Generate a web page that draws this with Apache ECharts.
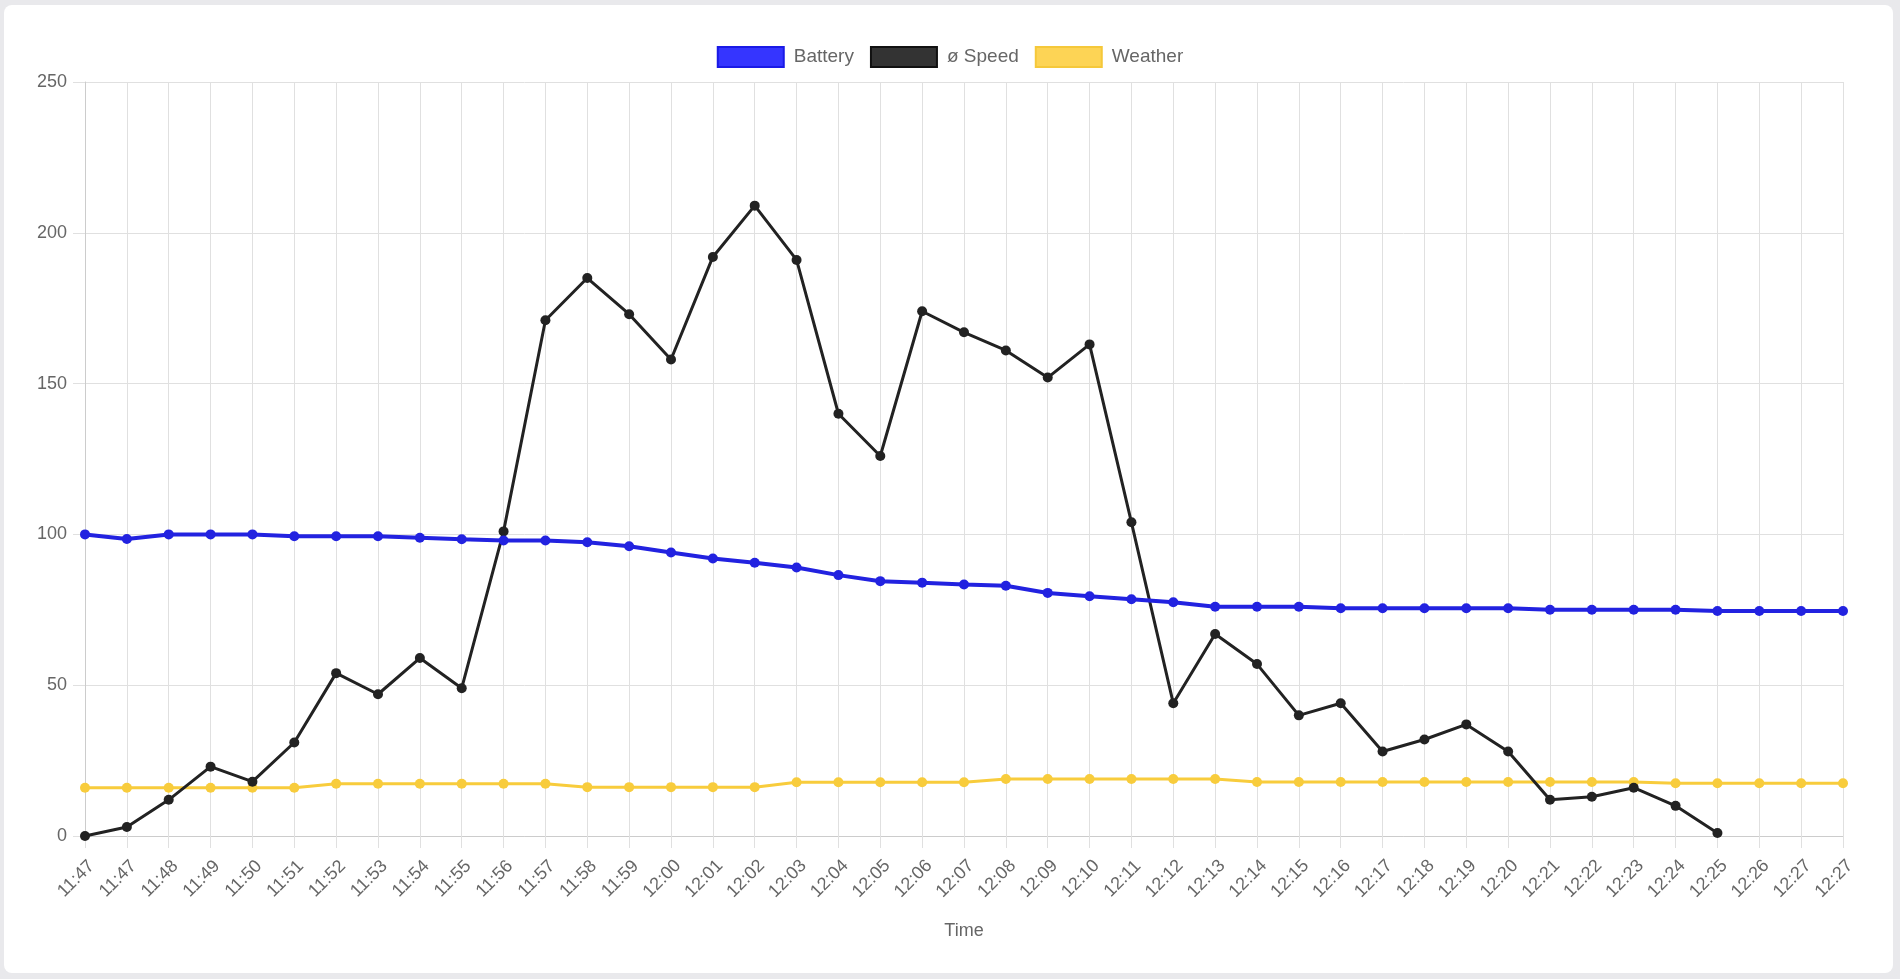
<!DOCTYPE html>
<html>
<head>
<meta charset="utf-8">
<title>Trip chart</title>
<script src="https://cdn.jsdelivr.net/npm/echarts@6/dist/echarts.min.js"></script>
<style>
  html, body { margin: 0; padding: 0; background: #e9e9ec; }
  #card {
    position: absolute; left: 4px; top: 5px; width: 1889px; height: 968px;
    background: #fff; border-radius: 8px;
  }
  #chart { position: absolute; left: 0; top: 0; width: 1900px; height: 979px; }
</style>
</head>
<body>
<div id="card"></div>
<div id="chart"></div>
<script>
const times = [
  "11:47", "11:47", "11:48", "11:49", "11:50", "11:51", "11:52", "11:53", "11:54", "11:55",
  "11:56", "11:57", "11:58", "11:59", "12:00", "12:01", "12:02", "12:03", "12:04", "12:05",
  "12:06", "12:07", "12:08", "12:09", "12:10", "12:11", "12:12", "12:13", "12:14", "12:15",
  "12:16", "12:17", "12:18", "12:19", "12:20", "12:21", "12:22", "12:23", "12:24", "12:25",
  "12:26", "12:27", "12:27"
];

const battery = [
  100, 98.5, 100, 100, 100, 99.4, 99.4, 99.4, 98.9, 98.4,
  98, 98, 97.4, 96.1, 94, 92, 90.6, 89, 86.5, 84.5,
  84, 83.4, 83, 80.6, 79.5, 78.5, 77.5, 76, 76, 76,
  75.5, 75.5, 75.5, 75.5, 75.5, 75, 75, 75, 75, 74.6,
  74.6, 74.6, 74.6
];

const speed = [
  0, 3, 12, 23, 18, 31, 54, 47, 59, 49,
  101, 171, 185, 173, 158, 192, 209, 191, 140, 126,
  174, 167, 161, 152, 163, 104, 44, 67, 57, 40,
  44, 28, 32, 37, 28, 12, 13, 16, 10, 1,
  null, null, null
];

const weather = [
  16, 16, 16, 16, 16, 16, 17.3, 17.3, 17.3, 17.3,
  17.3, 17.3, 16.2, 16.2, 16.2, 16.2, 16.2, 17.8, 17.8, 17.8,
  17.8, 17.8, 18.9, 18.9, 18.9, 18.9, 18.9, 18.9, 17.9, 17.9,
  17.9, 17.9, 17.9, 17.9, 17.9, 17.9, 17.9, 17.9, 17.5, 17.5,
  17.5, 17.5, 17.5
];

const labelColor = "#666";
const gridColor = "#e0e0e0";
const fontFamily = "'Liberation Sans', Arial, Helvetica, sans-serif";

const chart = echarts.init(document.getElementById("chart"));

const lineSeries = (name, data, color, width, z) => ({
  name: name,
  type: "line",
  data: data,
  z: z,
  symbol: "circle",
  symbolSize: 10,
  showAllSymbol: true,
  connectNulls: false,
  lineStyle: { color: color, width: width },
  itemStyle: { color: color },
  emphasis: { disabled: true },
});

const option = {
  animation: false,
  backgroundColor: "transparent",
  textStyle: { fontFamily: fontFamily },
  legend: {
    top: 41,
    left: "center",
    icon: "rect",
    itemWidth: 66,
    itemHeight: 20,
    itemGap: 16,
    selectedMode: false,
    textStyle: { fontSize: 19, color: labelColor, padding: [0, 0, 0, 5] },
    data: [
      { name: "Battery", itemStyle: { color: "#3535ff", borderColor: "#1a1ae6", borderWidth: 2 } },
      { name: "ø Speed", itemStyle: { color: "#333333", borderColor: "#111111", borderWidth: 2 } },
      { name: "Weather", itemStyle: { color: "#fdd455", borderColor: "#f5c83a", borderWidth: 2 } },
    ],
  },
  grid: { left: 85, right: 57, top: 82, bottom: 143, containLabel: false },
  xAxis: {
    type: "category",
    data: times,
    boundaryGap: false,
    name: "Time",
    nameLocation: "middle",
    nameGap: 86,
    nameTextStyle: { fontSize: 18, color: labelColor },
    axisLine: { lineStyle: { color: "#cccccc", width: 1 } },
    axisTick: { show: true, interval: 0, length: 12, lineStyle: { color: gridColor } },
    axisLabel: {
      interval: 0, rotate: 45, margin: 34, fontSize: 18, color: labelColor,
      align: "center", verticalAlign: "middle", padding: [0, 25, 0, 0],
    },
    splitLine: { show: true, interval: 0, lineStyle: { color: gridColor } },
  },
  yAxis: {
    type: "value",
    min: 0,
    max: 250,
    interval: 50,
    axisLine: { show: true, lineStyle: { color: "#cccccc", width: 1 } },
    axisTick: { show: true, length: 12, lineStyle: { color: gridColor } },
    axisLabel: { margin: 18, fontSize: 18, color: labelColor },
    splitLine: { show: true, lineStyle: { color: gridColor } },
  },
  series: [
    lineSeries("Battery", battery, "#2222e0", 4, 4),
    lineSeries("ø Speed", speed, "#222222", 3, 3),
    lineSeries("Weather", weather, "#f8cc3c", 3, 2),
  ],
};

chart.setOption(option);
</script>
</body>
</html>
